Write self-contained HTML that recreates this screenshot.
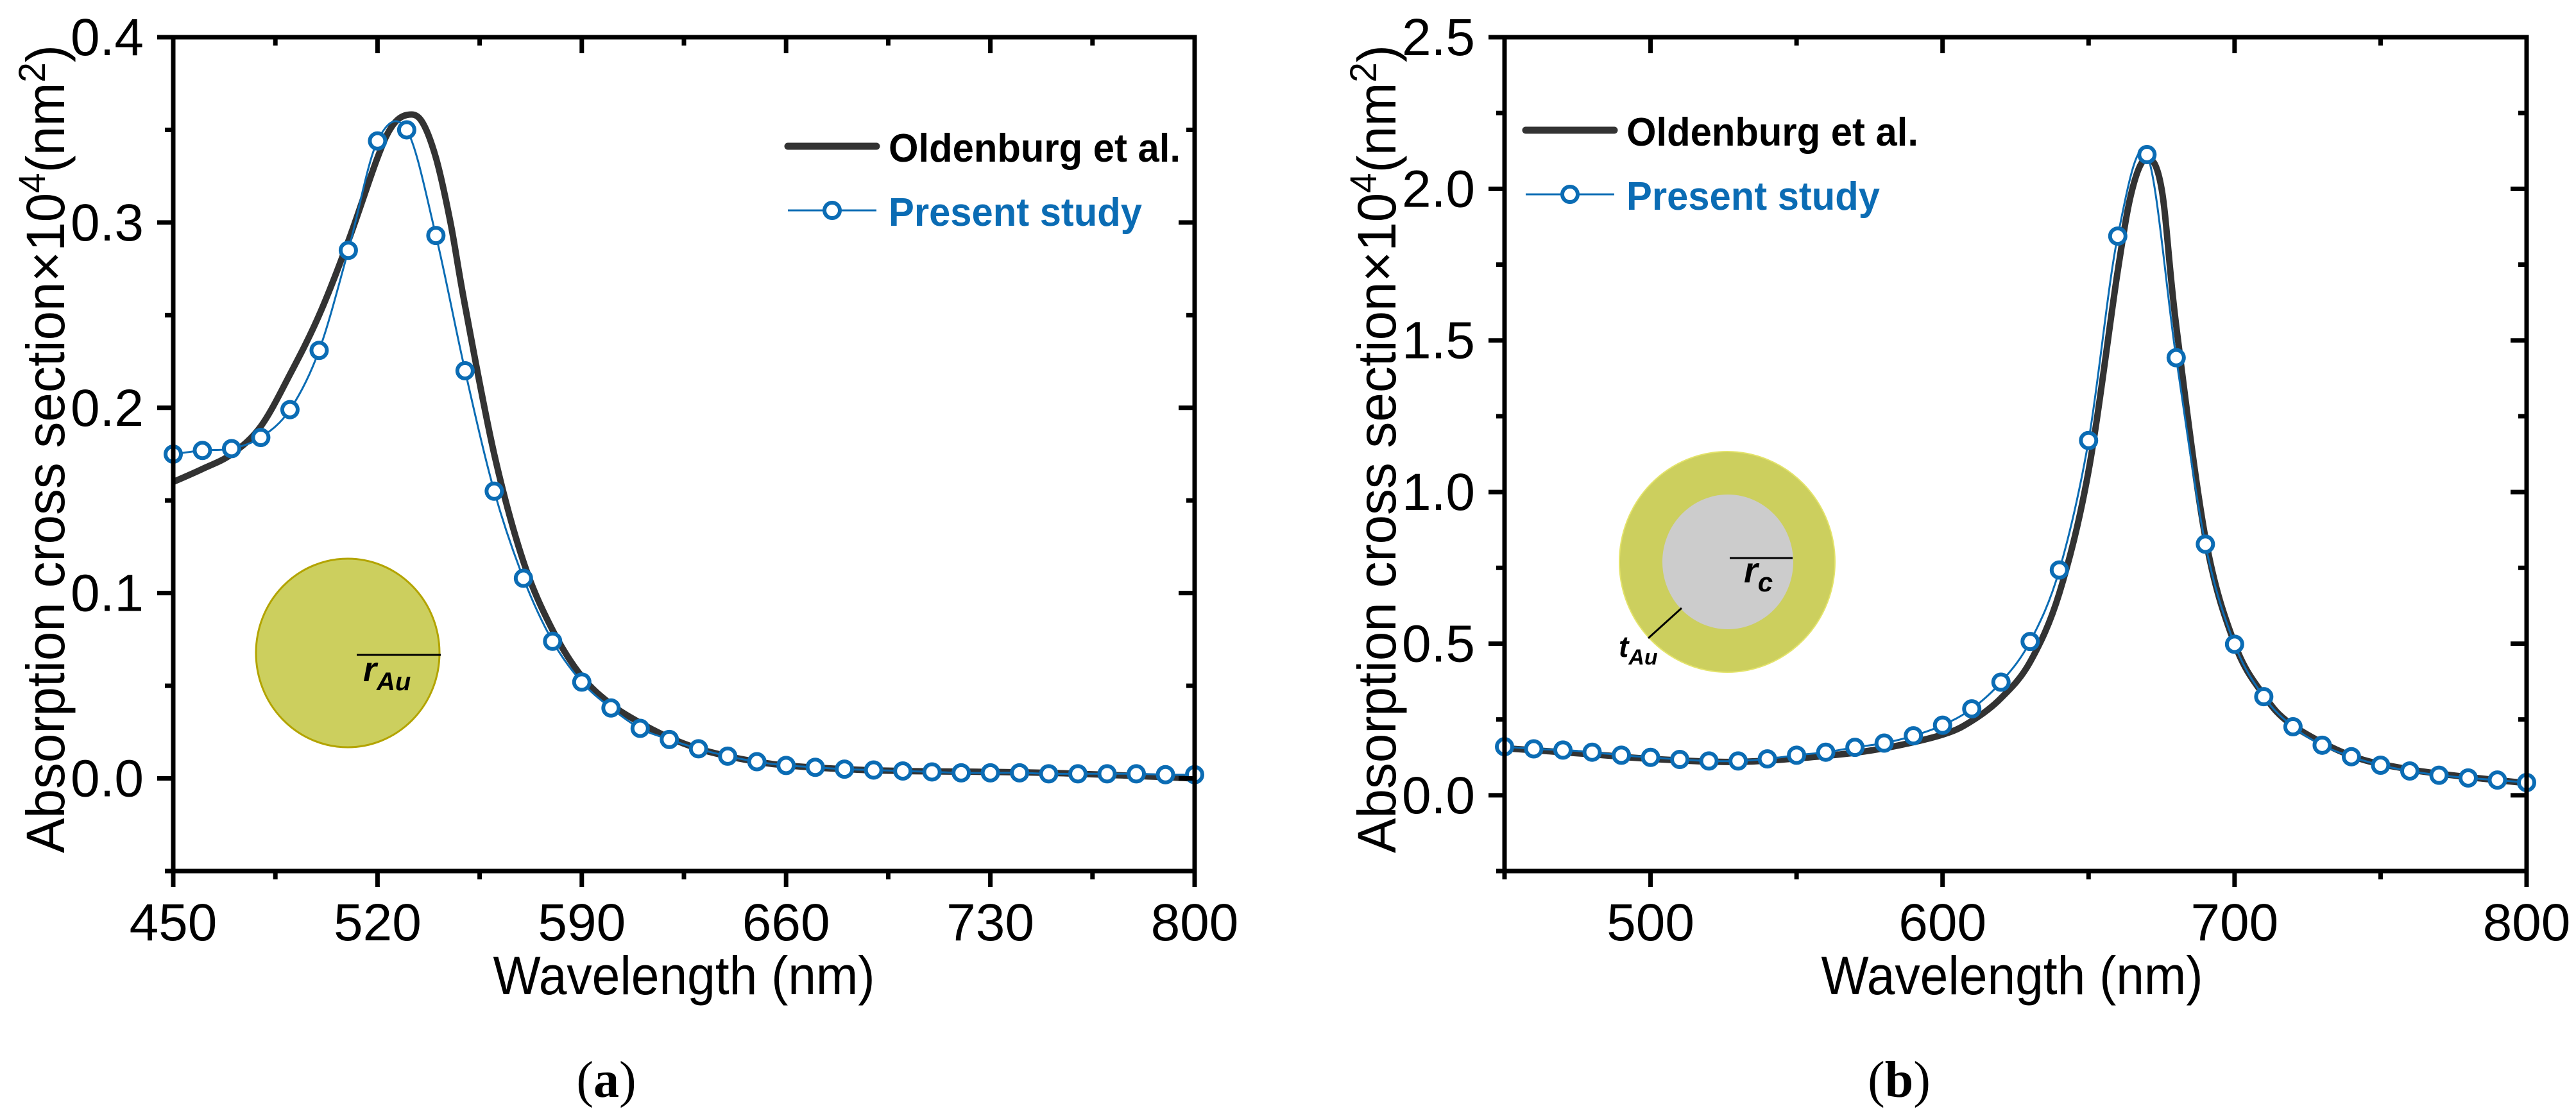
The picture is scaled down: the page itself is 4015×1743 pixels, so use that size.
<!DOCTYPE html>
<html><head><meta charset="utf-8"><style>
html,body{margin:0;padding:0;background:#fff;}
svg{display:block;}
text{font-family:"Liberation Sans",sans-serif;}
</style></head><body>
<svg id="fig" width="4015" height="1743" viewBox="0 0 4015 1743" xmlns="http://www.w3.org/2000/svg">
<rect width="4015" height="1743" fill="#fff"/>
<g id="panelA"></g>
<g id="panelB"></g>
</svg>
<script>
// Panel (a) data
const aWave = [450,460,470,480,490,500,510,520,530,540,550,560,570,580,590,600,610,620,630,640,650,660,670,680,690,700,710,720,730,740,750,760,770,780,790,800];
const aPresent = [0.175,0.177,0.178,0.184,0.199,0.231,0.285,0.344,0.350,0.293,0.220,0.155,0.108,0.074,0.052,0.038,0.027,0.021,0.016,0.012,0.009,0.007,0.006,0.005,0.0045,0.004,0.0035,0.003,0.003,0.003,0.0025,0.0025,0.0025,0.0025,0.002,0.002];
const aOldWave = [450,460,470,480,490,500,510,520,525,530,535,540,545,550,560,570,580,590,600,610,620,630,640,650,660,680,700,750,800];
const aOld = [0.160,0.167,0.175,0.190,0.218,0.250,0.290,0.335,0.352,0.358,0.355,0.335,0.300,0.255,0.175,0.117,0.080,0.055,0.040,0.030,0.022,0.016,0.012,0.009,0.007,0.005,0.004,0.003,0.0];
const aXTicks = [450,520,590,660,730,800];
const aYTicks = [0.0,0.1,0.2,0.3,0.4];
// Panel (b) data
const bWave = aWave;
const bPresent = [0.16,0.153,0.149,0.142,0.132,0.125,0.118,0.113,0.113,0.12,0.132,0.142,0.158,0.172,0.196,0.231,0.285,0.373,0.507,0.743,1.17,1.844,2.113,1.443,0.828,0.498,0.325,0.226,0.165,0.127,0.099,0.080,0.066,0.057,0.050,0.042];
const bOldWave = [450,480,500,530,560,580,600,610,620,630,640,650,660,665,670,675,680,690,700,710,720,740,760,780,800];
const bOld = [0.155,0.135,0.12,0.11,0.13,0.155,0.2,0.245,0.32,0.44,0.667,1.07,1.73,2.0,2.10,2.0,1.55,0.85,0.50,0.33,0.23,0.13,0.085,0.06,0.04];
const bXTicks = [500,600,700,800];
const bYTicks = [0.0,0.5,1.0,1.5,2.0,2.5];

const NS = "http://www.w3.org/2000/svg";
function mk(parent, tag, attrs, txt){
  const e = document.createElementNS(NS, tag);
  for (const k in attrs) e.setAttribute(k, attrs[k]);
  if (txt !== undefined) e.textContent = txt;
  parent.appendChild(e);
  return e;
}
function smooth(pts){
  let d = "M" + pts[0][0].toFixed(1) + "," + pts[0][1].toFixed(1);
  for (let i=0;i<pts.length-1;i++){
    const p0 = pts[i-1]||pts[i], p1=pts[i], p2=pts[i+1], p3=pts[i+2]||p2;
    const c1=[p1[0]+(p2[0]-p0[0])/6, p1[1]+(p2[1]-p0[1])/6];
    const c2=[p2[0]-(p3[0]-p1[0])/6, p2[1]-(p3[1]-p1[1])/6];
    d += "C"+c1[0].toFixed(1)+","+c1[1].toFixed(1)+" "+c2[0].toFixed(1)+","+c2[1].toFixed(1)+" "+p2[0].toFixed(1)+","+p2[1].toFixed(1);
  }
  return d;
}

function panel(g, cfg){
  const L=cfg.L,R=cfg.R,T=58,B=1358;
  const sx = v => L + (v-cfg.x0)/(cfg.x1-cfg.x0)*(R-L);
  const sy = v => B - (v-cfg.y0)/(cfg.y1-cfg.y0)*(B-T);
  // inset
  cfg.inset(g);
  // curves
  const clip = mk(g,"clipPath",{id:cfg.id+"clip"});
  mk(clip,"rect",{x:L,y:T,width:R-L,height:B-T});
  const old = mk(g,"path",{d:smooth(cfg.oldW.map((w,i)=>[sx(w),sy(cfg.old[i])])),fill:"none",stroke:"#333",'stroke-width':10,'stroke-linejoin':"round",'clip-path':"url(#"+cfg.id+"clip)"});
  
  
  const pres = mk(g,"path",{d:smooth(cfg.w.map((w,i)=>[sx(w),sy(cfg.p[i])])),fill:"none",stroke:"#0b6cb4",'stroke-width':3});
  
  
  cfg.w.forEach((w,i)=>{
    const c = mk(g,"circle",{cx:sx(w),cy:sy(cfg.p[i]),r:12,fill:"#fff",stroke:"#0b6cb4",'stroke-width':6});
    
    
  });
  // frame
  const fr = mk(g,"rect",{x:L,y:T,width:R-L,height:B-T,fill:"none",stroke:"#000",'stroke-width':7});
  
  
  // x ticks
  for (let v=cfg.x0; v<=cfg.x1+0.01; v+=cfg.xMinor){
    const major = cfg.xt.some(t=>Math.abs(t-v)<0.01);
    const len = major?25:13, x=sx(v);
    mk(g,"line",{x1:x,y1:B,x2:x,y2:B+len,stroke:"#000",'stroke-width':7});
    mk(g,"line",{x1:x,y1:T,x2:x,y2:T+len,stroke:"#000",'stroke-width':7});
  }
  cfg.xt.forEach(v=>{
    const t = mk(g,"text",{x:sx(v),y:1466,'font-size':82,'text-anchor':"middle",fill:"#000"},String(v));
    
    
  });
  for (let v=cfg.y0; v<=cfg.y1+1e-6; v+=cfg.yMinor){
    const major = cfg.yt.some(t=>Math.abs(t-v)<1e-6);
    const len = major?25:13, y=sy(v);
    mk(g,"line",{x1:L,y1:y,x2:L-len,y2:y,stroke:"#000",'stroke-width':7});
    mk(g,"line",{x1:R,y1:y,x2:R-len,y2:y,stroke:"#000",'stroke-width':7});
  }
  cfg.yt.forEach(v=>{
    const t = mk(g,"text",{x:L-46,y:sy(v)+28,'font-size':82,'text-anchor':"end",fill:"#000"},v.toFixed(1));
    
    
  });
  // titles
  const xt = mk(g,"text",{x:cfg.xtc,y:1550,'font-size':84,'text-anchor':"middle",textLength:595,lengthAdjust:"spacingAndGlyphs",fill:"#000"},"Wavelength (nm)");
  
  
  const yt = mk(g,"text",{transform:"translate("+cfg.ytx+",700) rotate(-90)",'font-size':84,'text-anchor':"middle",textLength:1260,lengthAdjust:"spacingAndGlyphs",fill:"#000"});
  
  
  mk(yt,"tspan",{},"Absorption cross section×10");
  mk(yt,"tspan",{dy:-30,'font-size':58},"4");
  mk(yt,"tspan",{dy:30},"(nm");
  mk(yt,"tspan",{dy:-30,'font-size':58},"2");
  mk(yt,"tspan",{dy:30},")");
  // legend
  const lg = mk(g,"g",{});
  
  
  const lx=cfg.lx, ly=cfg.ly;
  mk(lg,"line",{x1:lx,y1:ly,x2:lx+138,y2:ly,stroke:"#333",'stroke-width':11,'stroke-linecap':"round"});
  const t1 = mk(lg,"text",{x:lx+157,y:ly+24,'font-size':62,'font-weight':"bold",textLength:455,lengthAdjust:"spacingAndGlyphs",fill:"#000"},"Oldenburg et al.");
  
  
  mk(lg,"line",{x1:lx,y1:ly+100,x2:lx+138,y2:ly+100,stroke:"#0b6cb4",'stroke-width':3});
  mk(lg,"circle",{cx:lx+69,cy:ly+100,r:12,fill:"#fff",stroke:"#0b6cb4",'stroke-width':6});
  const t2 = mk(lg,"text",{x:lx+157,y:ly+124,'font-size':62,'font-weight':"bold",textLength:395,lengthAdjust:"spacingAndGlyphs",fill:"#0b6cb4"},"Present study");
  
  
  // panel label
  const pl = mk(g,"text",{x:cfg.plx,y:1710,'font-size':80,'text-anchor':"middle",fill:"#000",style:"font-family:'Liberation Serif',serif"});
  
  
  mk(pl,"tspan",{},"(");
  mk(pl,"tspan",{'font-weight':"bold"},cfg.letter);
  mk(pl,"tspan",{},")");
}

panel(document.getElementById("panelA"),{
  id:"a",L:270,R:1862,x0:450,x1:800,y0:-0.05,y1:0.4,xMinor:35,yMinor:0.05,
  xt:aXTicks,yt:aYTicks,w:aWave,p:aPresent,oldW:aOldWave,old:aOld,
  xtc:1066,ytx:100,lx:1228,ly:228,plx:945,letter:"a",
  inset:function(g){
    const s = mk(g,"g",{});  
    mk(s,"ellipse",{cx:542,cy:1018,rx:143,ry:147,fill:"#cccf5e",stroke:"#b3a400",'stroke-width':3});
    mk(s,"line",{x1:556,y1:1021,x2:687,y2:1021,stroke:"#000",'stroke-width':3});
    const t = mk(s,"text",{x:566,y:1062,'font-size':54,'font-weight':"bold",'font-style':"italic",fill:"#000"});
    mk(t,"tspan",{},"r");
    mk(t,"tspan",{dy:14,'font-size':40},"Au");
  }
});
panel(document.getElementById("panelB"),{
  id:"b",L:2345,R:3938,x0:450,x1:800,y0:-0.25,y1:2.5,xMinor:50,yMinor:0.25,
  xt:bXTicks,yt:bYTicks,w:bWave,p:bPresent,oldW:bOldWave,old:bOld,
  xtc:3136,ytx:2175,lx:2378,ly:203,plx:2960,letter:"b",
  inset:function(g){
    const s = mk(g,"g",{});  
    mk(s,"ellipse",{cx:2692,cy:876,rx:168,ry:172,fill:"#cccf5e",stroke:"#e3e36a",'stroke-width':2});
    mk(s,"ellipse",{cx:2693,cy:876,rx:102,ry:105,fill:"#cccccc"});
    mk(s,"line",{x1:2696,y1:870,x2:2794,y2:870,stroke:"#000",'stroke-width':3});
    mk(s,"line",{x1:2621,y1:948,x2:2569,y2:995,stroke:"#000",'stroke-width':3});
    const t = mk(s,"text",{x:2718,y:908,'font-size':56,'font-weight':"bold",'font-style':"italic",fill:"#000"});
    mk(t,"tspan",{},"r");
    mk(t,"tspan",{dy:14,'font-size':42},"c");
    const t2 = mk(s,"text",{x:2523,y:1024,'font-size':46,'font-weight':"bold",'font-style':"italic",fill:"#000"});
    mk(t2,"tspan",{},"t");
    mk(t2,"tspan",{dy:12,'font-size':34},"Au");
  }
});
</script>
</body></html>
